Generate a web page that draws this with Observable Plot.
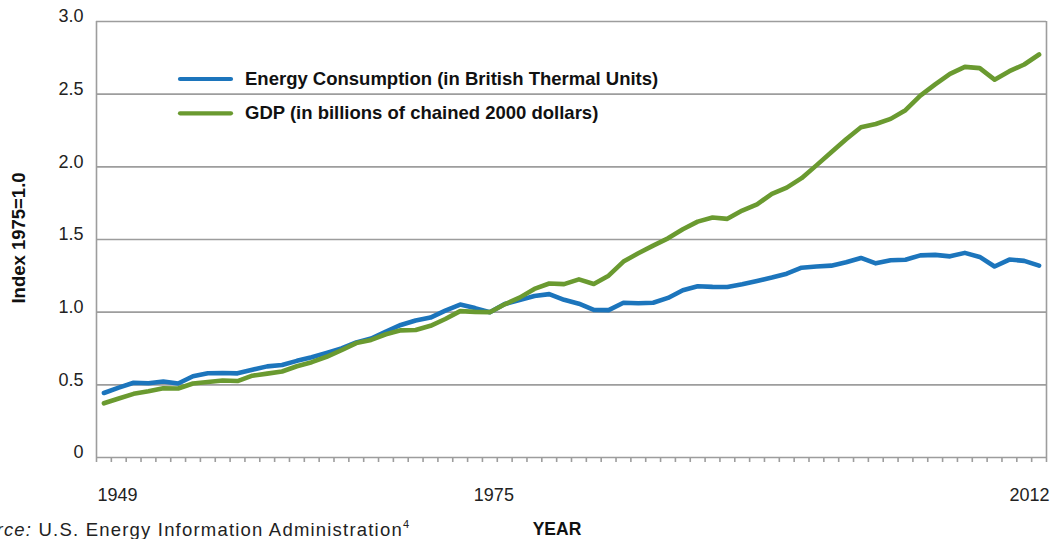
<!DOCTYPE html>
<html>
<head>
<meta charset="utf-8">
<script src="https://cdn.jsdelivr.net/npm/d3@7"></script>
<script src="https://cdn.jsdelivr.net/npm/@observablehq/plot@0.6"></script>
<style>
  html, body { margin: 0; padding: 0; background: #fff; overflow: hidden; }
  #chart { position: relative; width: 1052px; height: 539px; }
</style>
</head>
<body>
<div id="chart"></div>
<script>
// ---- data ----
const years = [1949,1950,1951,1952,1953,1954,1955,1956,1957,1958,
  1959,1960,1961,1962,1963,1964,1965,1966,1967,1968,
  1969,1970,1971,1972,1973,1974,1975,1976,1977,1978,
  1979,1980,1981,1982,1983,1984,1985,1986,1987,1988,
  1989,1990,1991,1992,1993,1994,1995,1996,1997,1998,
  1999,2000,2001,2002,2003,2004,2005,2006,2007,2008,
  2009,2010,2011,2012];
const energyIndex = [0.444,0.481,0.514,0.511,0.523,0.509,0.559,0.580,0.581,0.579,
  0.604,0.627,0.636,0.665,0.690,0.720,0.751,0.792,0.819,0.867,
  0.912,0.943,0.963,1.010,1.052,1.028,1.000,1.056,1.083,1.111,
  1.124,1.085,1.058,1.016,1.014,1.065,1.061,1.065,1.098,1.151,
  1.178,1.174,1.173,1.192,1.215,1.238,1.265,1.306,1.314,1.320,
  1.343,1.373,1.336,1.357,1.361,1.391,1.394,1.384,1.408,1.380,
  1.314,1.362,1.353,1.320];
const gdpIndex = [0.373,0.406,0.438,0.456,0.477,0.475,0.509,0.519,0.530,0.526,
  0.563,0.577,0.592,0.628,0.656,0.693,0.738,0.787,0.809,0.848,
  0.875,0.877,0.906,0.953,1.007,1.002,1.000,1.054,1.100,1.160,
  1.197,1.193,1.226,1.194,1.251,1.348,1.405,1.458,1.508,1.570,
  1.623,1.651,1.642,1.699,1.742,1.814,1.857,1.922,2.010,2.100,
  2.190,2.272,2.295,2.330,2.390,2.490,2.567,2.640,2.688,2.679,
  2.600,2.658,2.704,2.773];
const seriesNames = ["Energy Consumption (in British Thermal Units)", "GDP (in billions of chained 2000 dollars)"];
const seriesColors = ["#1c75bc", "#6a9a30"];
const yTicks = [0, 0.5, 1.0, 1.5, 2.0, 2.5, 3.0];
const xTickLabels = [1949, 1975, 2012];
const yAxisTitle = "Index 1975=1.0";
const xAxisTitle = "YEAR";
const sourceLabel = "Source:";
const sourceText = " U.S. Energy Information Administration";
const sourceNote = "4";

// ---- table ----
const table = [];
years.forEach((yr, i) => {
  table.push({year: yr, value: energyIndex[i], series: seriesNames[0]});
});
years.forEach((yr, i) => {
  table.push({year: yr, value: gdpIndex[i], series: seriesNames[1]});
});
const first = years[0], last = years[years.length - 1];
const boundaries = years.map(y => y - 0.5).concat([last + 0.5]);

const grey = "#9d9d9d";
const font = "'Liberation Sans', Arial, Helvetica, sans-serif";

const chart = Plot.plot({
  width: 1052,
  height: 539,
  marginLeft: 96,
  marginRight: 6,
  marginTop: 21,
  marginBottom: 82,
  style: {fontFamily: font, fontSize: "18px", color: "#222", background: "#fff", overflow: "visible"},
  x: {domain: [first - 0.5, last + 0.5]},
  y: {domain: [0, 3]},
  color: {domain: seriesNames, range: seriesColors},
  marks: [
    Plot.ruleY(yTicks, {stroke: grey, strokeWidth: 1.6}),
    Plot.ruleX([first - 0.5, last + 0.5], {y1: 0, y2: 3, stroke: grey, strokeWidth: 1.6}),
    Plot.axisX({ticks: boundaries, tickSize: 5, tickFormat: () => "", stroke: grey, strokeWidth: 1.6, label: null}),
    Plot.axisY({ticks: yTicks, tickSize: 0, tickPadding: 13, dy: -5, fill: "#222",
      tickFormat: d => d === 0 ? "0" : d.toFixed(1), label: null}),
    Plot.text([xTickLabels[0]], {x: d => d - 0.5, y: 0, dy: 38, dx: 1, text: d => String(d), textAnchor: "start", fontSize: 18, fill: "#222"}),
    Plot.text([xTickLabels[1]], {x: d => d, y: 0, dy: 38, dx: 4, text: d => String(d), fontSize: 18, fill: "#222"}),
    Plot.text([xTickLabels[2]], {x: d => d + 0.5, y: 0, dy: 38, dx: 3, text: d => String(d), textAnchor: "end", fontSize: 18, fill: "#222"}),
    Plot.line(table, {x: "year", y: "value", z: "series", stroke: "series", strokeWidth: 4.6,
      strokeLinejoin: "round", strokeLinecap: "round"})
  ]
});
document.getElementById("chart").append(chart);

// ---- legend & titles ----
const svg = d3.select(chart);
const leg = svg.append("g").attr("font-family", font).attr("font-weight", "bold")
  .attr("font-size", 18.5).attr("fill", "#111").attr("text-anchor", "start");
seriesNames.forEach((name, i) => {
  const y = 79 + i * 34.3;
  leg.append("line").attr("x1", 180).attr("x2", 231).attr("y1", y).attr("y2", y)
    .attr("stroke", seriesColors[i]).attr("stroke-width", 4.2).attr("stroke-linecap", "round");
  leg.append("text").attr("x", 245).attr("y", y + 5.5).attr("text-anchor", "start").text(name);
});

svg.append("text").attr("transform", "translate(25,238) rotate(-90)")
  .attr("text-anchor", "middle").attr("font-family", font).attr("font-weight", "bold")
  .attr("font-size", 18.5).attr("fill", "#111").text(yAxisTitle);

svg.append("text").attr("x", 557).attr("y", 535).attr("text-anchor", "middle")
  .attr("font-family", font).attr("font-weight", "bold").attr("font-size", 17.5)
  .attr("fill", "#111").text(xAxisTitle);

const src = svg.append("text").attr("x", -40).attr("y", 536).attr("text-anchor", "start")
  .attr("font-family", font).attr("font-size", 18.5).attr("fill", "#222").attr("letter-spacing", 1.2);
src.append("tspan").attr("font-style", "italic").text(sourceLabel);
src.append("tspan").text(sourceText);
src.append("tspan").attr("font-size", 11).attr("dy", -8).text(sourceNote);
</script>
</body>
</html>
